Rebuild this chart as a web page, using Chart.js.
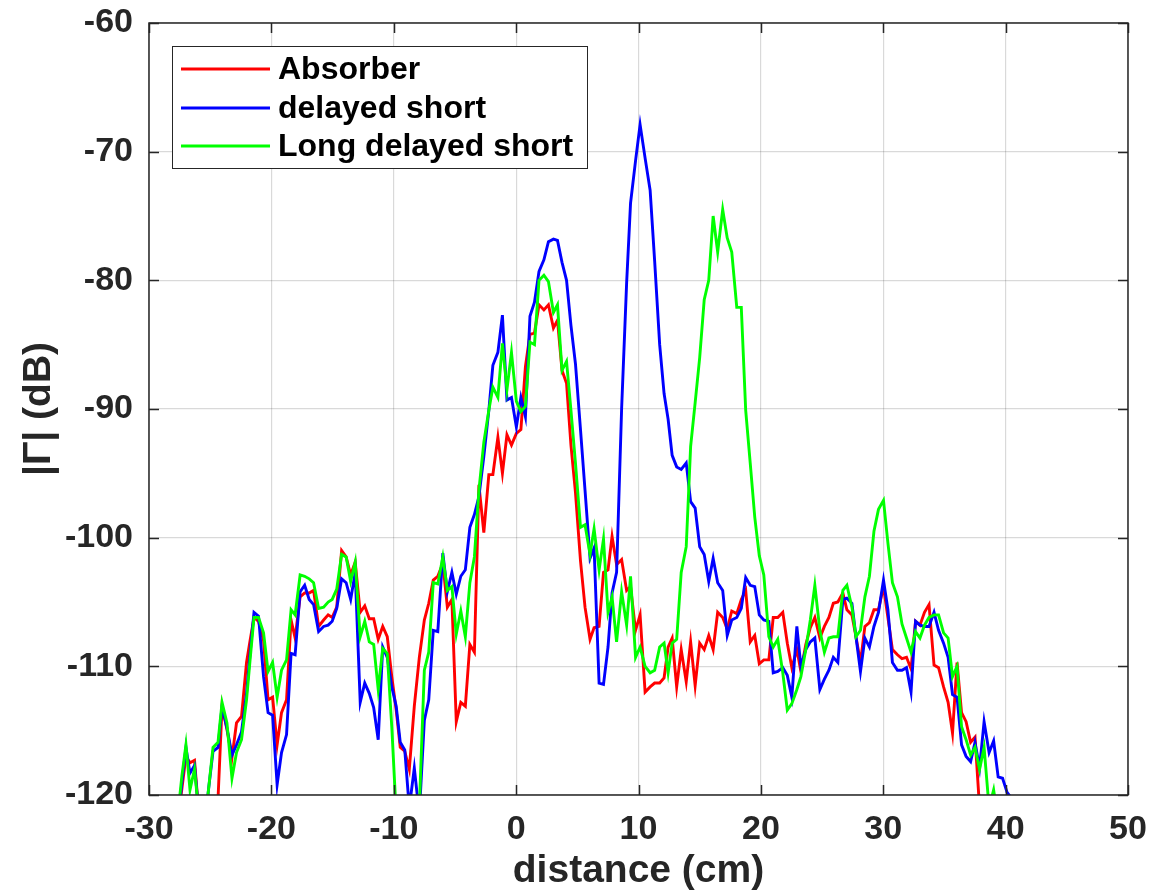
<!DOCTYPE html>
<html>
<head>
<meta charset="utf-8">
<script src="https://cdn.jsdelivr.net/npm/chart.js@4.4.1/dist/chart.umd.min.js"></script>
<style>
html,body{margin:0;padding:0;background:#fff;}
#wrap{width:1151px;height:893px;position:relative;}
</style>
</head>
<body>
<div id="wrap"><canvas id="c"></canvas></div>
<script>
// distance (cm) of each sample
const distance = [
-27.64,-27.31,-26.98,-26.65,-26.28,-25.92,-25.51,-25.14,-24.77,-24.36,
-24.03,-23.63,-23.22,-22.85,-22.44,-22.03,-21.74,-21.42,-21.05,-20.64,
-20.27,-19.90,-19.53,-19.17,-18.76,-18.39,-18.06,-17.65,-17.28,-16.91,
-16.55,-16.14,-15.73,-15.36,-15.03,-14.66,-14.26,-13.89,-13.52,-13.15,
-12.74,-12.37,-12.00,-11.64,-11.27,-10.90,-10.53,-10.16,-9.80,-9.47,
-9.10,-8.73,-8.32,-7.91,-7.50,-7.14,-6.77,-6.40,-5.99,-5.62,
-5.25,-4.89,-4.52,-4.15,-3.78,-3.41,-3.04,-2.64,-2.23,-1.90,
-1.49,-1.12,-0.75,-0.38,0.02,0.39,0.76,1.13,1.50,1.87,
2.27,2.64,3.05,3.38,3.75,4.12,4.48,4.85,5.26,5.63,
6.04,6.37,6.78,7.14,7.51,7.84,8.21,8.62,9.03,9.35,
9.76,10.13,10.54,10.95,11.32,11.73,12.09,12.42,12.75,13.12,
13.49,13.90,14.26,14.63,15.00,15.37,15.74,16.10,16.47,16.88,
17.25,17.62,18.03,18.40,18.76,19.13,19.50,19.87,20.24,20.65,
21.01,21.38,21.79,22.16,22.53,22.94,23.27,23.67,24.04,24.41,
24.82,25.19,25.56,25.92,26.29,26.70,27.03,27.44,27.77,28.14,
28.50,28.87,29.24,29.61,30.02,30.38,30.75,31.16,31.53,31.90,
32.27,32.64,33.00,33.37,33.74,34.15,34.52,34.93,35.30,35.66,
36.03,36.40,36.77,37.14,37.50,37.87,38.24,38.65,39.02,39.39,
39.75,40.12,40.53
];

// |Gamma| (dB), Absorber
const absorber = [
-122,-119.5,-117.0,-117.5,-117.3,-121.5,-124,-124,-123,-120.3,
-113.1,-114.9,-117.1,-114.4,-113.9,-109.7,-108.0,-106.2,-106.5,-108.0,
-112.6,-112.4,-116.1,-113.6,-112.6,-106.4,-107.8,-104.6,-104.3,-104.3,
-104.1,-106.9,-106.4,-106.0,-106.2,-105.4,-101.0,-101.5,-102.9,-101.9,
-105.8,-105.3,-106.3,-106.3,-107.9,-106.9,-107.7,-110.8,-113.4,-116.3,
-116.6,-118.0,-113.1,-109.3,-106.4,-105.1,-103.3,-103.0,-102.0,-105.4,
-104.8,-114.3,-112.8,-113.1,-108.3,-108.9,-95.9,-99.6,-95.1,-95.1,
-92.2,-95.0,-92.0,-92.8,-91.9,-91.6,-86.7,-84.2,-84.1,-81.9,
-82.3,-81.9,-83.7,-83.1,-87.0,-88.0,-92.8,-96.5,-101.8,-105.4,
-107.9,-107.0,-106.9,-102.7,-102.5,-99.9,-102.1,-101.7,-104.1,-103.8,
-107.2,-106.0,-112.0,-111.6,-111.3,-111.3,-110.9,-108.5,-107.8,-111.6,
-108.7,-111.2,-108.1,-111.5,-108.2,-108.7,-107.6,-108.7,-105.8,-106.2,
-107.1,-105.7,-105.9,-104.8,-104.1,-108.1,-107.6,-109.8,-109.5,-109.5,
-106.2,-106.2,-105.8,-108.2,-110.1,-108.7,-110.4,-108.3,-107.0,-106.2,
-107.8,-106.9,-106.2,-105.1,-105.0,-104.3,-105.6,-106.0,-107.7,-109.7,
-106.9,-106.6,-105.6,-105.6,-103.8,-106.2,-108.7,-109.1,-109.4,-109.3,
-110.2,-106.5,-106.8,-105.8,-105.2,-109.9,-110.1,-111.6,-112.8,-115.2,
-109.7,-113.6,-114.3,-115.9,-115.5,-121,-124,-124,-124,-124,
-124,-124,-124
];

// |Gamma| (dB), delayed short
const delayedShort = [
-122,-119,-116.3,-118.3,-117.7,-121.5,-123,-119.6,-116.6,-116.3,
-113.1,-114.8,-116.9,-116.1,-115.1,-112.1,-109.0,-105.8,-106.1,-110.8,
-113.6,-113.8,-119.2,-116.7,-115.3,-109.0,-109.1,-104.2,-103.7,-104.8,
-105.2,-107.3,-106.9,-106.8,-106.5,-105.5,-103.2,-103.5,-104.8,-102.7,
-112.8,-111.3,-112.1,-113.2,-115.7,-108.5,-109.3,-111.6,-113.1,-115.9,
-116.5,-121,-117.9,-121.5,-114.2,-112.6,-107.2,-107.3,-101.2,-104.2,
-102.7,-104.4,-103.0,-102.5,-99.2,-98.2,-96.8,-93.7,-90.1,-86.6,
-85.6,-82.7,-89.3,-89.1,-91.4,-89.1,-90.6,-82.8,-81.7,-79.3,
-78.4,-77.0,-76.8,-76.9,-78.6,-80.0,-83.5,-86.5,-91.6,-96.3,
-101.6,-100.8,-111.3,-111.4,-108.5,-104.3,-102.7,-90.0,-80.2,-74.0,
-70.7,-67.9,-70.5,-73.0,-78.5,-85.0,-88.8,-90.8,-93.6,-94.5,
-94.7,-94.2,-97.2,-97.7,-100.7,-101.3,-103.4,-101.6,-103.5,-104.1,
-107.6,-106.4,-106.2,-105.5,-103.1,-103.7,-103.8,-106.0,-106.4,-106.5,
-110.5,-110.4,-110.1,-110.7,-112.4,-106.9,-110.0,-108.7,-108.1,-107.8,
-111.8,-111.0,-110.3,-109.3,-109.7,-104.8,-104.7,-105.1,-107.7,-110.4,
-107.8,-108.5,-106.9,-105.8,-103.3,-105.6,-109.7,-110.3,-110.3,-110.1,
-112.0,-106.5,-106.8,-106.9,-106.9,-105.8,-107.2,-108.2,-109.3,-112.2,
-112.4,-116.1,-117.0,-117.4,-115.9,-117.9,-114.3,-116.7,-115.8,-118.6,
-118.7,-119.8,-120.3
];

// |Gamma| (dB), Long delayed short
const longDelayedShort = [
-121.5,-118.5,-116.1,-119.6,-118.0,-121.5,-123,-119.6,-116.3,-115.9,
-112.8,-114.4,-118.7,-116.7,-115.7,-112.6,-109.5,-106.2,-106.2,-107.4,
-110.4,-109.7,-112.4,-110.3,-109.5,-105.6,-106.0,-102.9,-103.0,-103.2,
-103.5,-105.5,-105.4,-105.0,-104.8,-104.0,-101.3,-101.5,-103.4,-101.9,
-107.7,-106.5,-108.1,-108.3,-111.8,-108.6,-109.0,-114.7,-121.5,-124,
-124,-124,-124,-121,-110.3,-108.9,-103.5,-103.6,-101.5,-104.1,
-103.8,-107.5,-105.7,-107.7,-103.5,-101.5,-96.3,-92.6,-90.1,-88.3,
-89.1,-84.9,-88.5,-85.6,-89.4,-90.2,-89.8,-84.8,-85.0,-80.0,
-79.6,-80.1,-82.5,-81.9,-87.0,-86.3,-90.1,-94.2,-99.2,-99.0,
-101.3,-99.3,-102.5,-100.1,-105.8,-104.6,-108.1,-104.2,-106.8,-103.0,
-109.3,-108.5,-110.0,-110.5,-110.3,-108.5,-108.2,-110.5,-108.2,-107.9,
-102.7,-100.7,-92.9,-89.5,-86.0,-81.5,-80.0,-75.0,-77.8,-74.5,
-76.7,-77.8,-82.1,-82.1,-90.1,-94.2,-98.4,-101.4,-102.9,-107.7,
-108.5,-107.9,-110.5,-113.4,-112.9,-111.8,-110.8,-108.7,-106.4,-103.7,
-107.2,-108.9,-107.8,-107.7,-107.7,-104.1,-103.7,-105.4,-107.7,-107.2,
-104.6,-103.0,-99.5,-97.8,-97.1,-100.4,-103.5,-104.6,-106.7,-107.8,
-108.9,-107.3,-107.8,-106.8,-106.2,-106.0,-106.0,-107.4,-107.8,-110.8,
-110.0,-114.7,-115.7,-116.9,-116.3,-118.0,-116.3,-121,-119.6,-122,
-124,-124,-124
];

const seriesLabels = ['Absorber', 'delayed short', 'Long delayed short'];
const seriesColors = ['#ff0000', '#0000ff', '#00ff00'];
const xLimits = [-30, 50];
const yLimits = [-120, -60];
const tickStep = 10;
const xTitle = 'distance (cm)';
const yTitle = '|\u0393| (dB)';

const FONT = '"Liberation Sans", Arial, Helvetica, sans-serif';
const AXIS_COLOR = '#262626';

function toPoints(values) {
  return distance.map((d, i) => ({ x: d, y: values[i] }));
}

const frameAndTicks = {
  id: 'frameAndTicks',
  afterDatasetsDraw(chart) {
    const { ctx, chartArea: a, scales } = chart;
    const xs = scales.x, ys = scales.y;
    ctx.save();
    ctx.strokeStyle = AXIS_COLOR;
    ctx.lineWidth = 1.5;
    ctx.beginPath();
    const tl = 10;
    xs.ticks.forEach(t => {
      const p = Math.round(xs.getPixelForValue(t.value)) + 0.5;
      ctx.moveTo(p, a.bottom); ctx.lineTo(p, a.bottom - tl);
      ctx.moveTo(p, a.top); ctx.lineTo(p, a.top + tl);
    });
    ys.ticks.forEach(t => {
      const p = Math.round(ys.getPixelForValue(t.value)) + 0.5;
      ctx.moveTo(a.left, p); ctx.lineTo(a.left + tl, p);
      ctx.moveTo(a.right, p); ctx.lineTo(a.right - tl, p);
    });
    ctx.stroke();
    ctx.strokeRect(a.left, a.top, a.right - a.left, a.bottom - a.top);
    ctx.restore();
  }
};

const boxedLegend = {
  id: 'boxedLegend',
  afterDatasetsDraw(chart) {
    const { ctx, chartArea: a } = chart;
    const x0 = a.left + 23, y0 = a.top + 23, w = 415, h = 122;
    ctx.save();
    ctx.fillStyle = '#ffffff';
    ctx.fillRect(x0, y0, w, h);
    ctx.strokeStyle = AXIS_COLOR;
    ctx.lineWidth = 1;
    ctx.strokeRect(x0 + 0.5, y0 + 0.5, w, h);
    ctx.font = 'bold 32px ' + FONT;
    ctx.textBaseline = 'middle';
    ctx.textAlign = 'left';
    const rows = [23, 62, 100];
    chart.data.datasets.forEach((ds, i) => {
      const yy = y0 + rows[i];
      ctx.strokeStyle = ds.borderColor;
      ctx.lineWidth = 3;
      ctx.beginPath();
      ctx.moveTo(x0 + 9, yy); ctx.lineTo(x0 + 98, yy);
      ctx.stroke();
      ctx.fillStyle = '#000000';
      ctx.fillText(ds.label, x0 + 106, yy + 1);
    });
    ctx.restore();
  }
};

const seriesValues = [absorber, delayedShort, longDelayedShort];

new Chart(document.getElementById('c'), {
  type: 'line',
  data: {
    datasets: seriesValues.map((vals, i) => ({
      label: seriesLabels[i],
      data: toPoints(vals),
      borderColor: seriesColors[i],
      backgroundColor: seriesColors[i],
      borderWidth: 2.9,
      pointRadius: 0,
      tension: 0,
      fill: false,
      clip: 0,
      order: 2 - i
    }))
  },
  options: {
    responsive: true,
    maintainAspectRatio: false,
    devicePixelRatio: 1,
    animation: false,
    layout: { padding: { top: 23, right: 23, left: 0, bottom: 0 } },
    plugins: { legend: { display: false }, tooltip: { enabled: false } },
    scales: {
      x: {
        type: 'linear',
        min: xLimits[0], max: xLimits[1],
        afterFit(s) { s.height = 98; s.paddingLeft = 0; s.paddingRight = 0; },
        ticks: {
          stepSize: tickStep, autoSkip: false, maxRotation: 0, padding: 14,
          color: AXIS_COLOR,
          font: { family: FONT, size: 34, weight: 'bold' }
        },
        grid: { color: 'rgba(0,0,0,0.15)', lineWidth: 1.2, drawTicks: false },
        border: { display: false },
        title: {
          display: true, text: xTitle, color: AXIS_COLOR,
          font: { family: FONT, size: 39, weight: 'bold', lineHeight: 1 },
          padding: { top: 0, bottom: 2 }
        }
      },
      y: {
        type: 'linear',
        min: yLimits[0], max: yLimits[1],
        afterFit(s) { s.width = 149; s.paddingTop = 0; s.paddingBottom = 0; },
        ticks: {
          stepSize: tickStep, autoSkip: false, padding: 16,
          color: AXIS_COLOR,
          font: { family: FONT, size: 34, weight: 'bold' }
        },
        grid: { color: 'rgba(0,0,0,0.15)', lineWidth: 1.2, drawTicks: false },
        border: { display: false },
        title: {
          display: true, text: yTitle, color: AXIS_COLOR,
          font: { family: FONT, size: 39, weight: 'bold', lineHeight: 1 },
          padding: { top: 20, bottom: 0 }
        }
      }
    }
  },
  plugins: [frameAndTicks, boxedLegend]
});
</script>
</body>
</html>
